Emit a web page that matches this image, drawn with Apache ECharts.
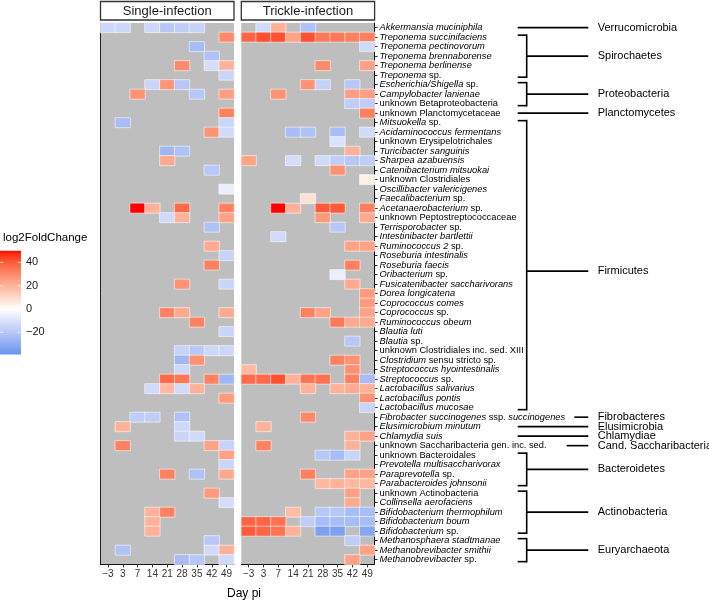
<!DOCTYPE html>
<html><head><meta charset="utf-8">
<script src="https://cdn.jsdelivr.net/npm/echarts@6/dist/echarts.min.js"></script>
<style>html,body{margin:0;padding:0;background:#fff}#c{width:709px;height:601px}</style>
</head><body><div id="c"></div>
<script>
// ---------------- DATA ----------------
const days = ['\u22123','3','7','14','21','28','35','42','49'];
const taxa = [
 '*Akkermansia muciniphila*','*Treponema succinifaciens*','*Treponema pectinovorum*','*Treponema brennaborense*',
 '*Treponema berlinense*','*Treponema* sp.','*Escherichia/Shigella* sp.','*Campylobacter lanienae*',
 'unknown Betaproteobacteria','unknown Planctomycetaceae','*Mitsuokella* sp.','*Acidaminococcus fermentans*',
 'unknown Erysipelotrichales','*Turicibacter sanguinis*','*Sharpea azabuensis*','*Catenibacterium mitsuokai*',
 'unknown Clostridiales','*Oscillibacter valericigenes*','*Faecalibacterium* sp.','*Acetanaerobacterium* sp.',
 'unknown Peptostreptococcaceae','*Terrisporobacter* sp.','*Intestinibacter bartlettii*','*Ruminococcus 2* sp.',
 '*Roseburia intestinalis*','*Roseburia faecis*','*Oribacterium* sp.','*Fusicatenibacter saccharivorans*',
 '*Dorea longicatena*','*Coprococcus comes*','*Coprococcus* sp.','*Ruminococcus obeum*','*Blautia luti*',
 '*Blautia* sp.','unknown Clostridiales inc. sed. XIII','*Clostridium* sensu stricto sp.',
 '*Streptococcus hyointestinalis*','*Streptococcus* sp.','*Lactobacillus salivarius*','*Lactobacillus pontis*',
 '*Lactobacillus mucosae*','*Fibrobacter succinogenes* ssp. *succinogenes*','*Elusimicrobium minutum*',
 '*Chlamydia suis*','unknown Saccharibacteria gen. inc. sed.','unknown Bacteroidales',
 '*Prevotella multisaccharivorax*','*Paraprevotella* sp.','*Parabacteroides johnsonii*','unknown Actinobacteria',
 '*Collinsella aerofaciens*','*Bifidobacterium thermophilum*','*Bifidobacterium boum*','*Bifidobacterium* sp.',
 '*Methanosphaera stadtmanae*','*Methanobrevibacter smithii*','*Methanobrevibacter* sp.'
];
// [phylum, first taxon index, last taxon index]
const phyla = [
 ['Verrucomicrobia',0,0],['Spirochaetes',1,5],['Proteobacteria',6,8],['Planctomycetes',9,9],
 ['Firmicutes',10,40],['Fibrobacteres',41,41],['Elusimicrobia',42,42],['Chlamydiae',43,43],
 ['Cand. Saccharibacteria',44,44],['Bacteroidetes',45,48],['Actinobacteria',49,53],['Euryarchaeota',54,56]
];
// [taxon index, day index, log2FoldChange]
const singleCells = [
 [0,0,-14],[0,1,-14],[0,3,-14],[0,4,-20],[0,5,-18],[0,6,-16],
 [1,8,30],[2,6,-24],[3,7,-22],[4,5,30],[4,7,-12],[4,8,20],[5,8,-15],
 [6,3,-15],[6,4,27],[6,5,-20],[7,2,28],[7,6,-20],[7,8,25],[9,8,32],
 [10,1,-24],[10,8,-15],[11,7,28],[11,8,-13],[13,4,-26],[13,5,-22],[14,4,22],[15,7,-20],[17,8,-6],
 [19,2,50],[19,3,20],[19,5,37],[19,8,32],[20,4,-13],[20,5,20],[20,8,24],[21,7,-22],[23,7,22],
 [24,8,-16],[25,7,32],[27,5,28],[27,8,-15],[30,4,32],[30,5,22],[30,8,22],[31,6,32],[32,8,-15],
 [34,5,-16],[34,6,-20],[34,7,-14],[34,8,-14],[35,5,-26],[35,6,28],[36,5,-14],
 [37,4,37],[37,5,34],[37,7,32],[37,8,-26],[38,3,-13],[38,4,18],[38,5,-13],[38,6,20],[39,8,26],
 [41,2,-18],[41,3,-18],[41,5,-22],[42,1,20],[42,5,-14],[43,5,-15],[43,6,-13],
 [44,1,32],[44,7,24],[44,8,-16],[45,8,24],[46,8,-15],[47,4,32],[47,6,-22],[47,8,22],
 [49,7,26],[50,8,-12],[51,3,20],[51,4,32],[52,3,20],[53,3,20],[54,7,-20],
 [55,1,-22],[55,7,-13],[55,8,20],[56,5,-24],[56,6,-20],[56,8,-13]
];
const trickleCells = [
 [0,1,-13],[0,2,20],[0,4,-22],
 [1,0,38],[1,1,42],[1,2,42],[1,3,24],[1,4,42],[1,5,34],[1,6,34],[1,7,32],[1,8,32],
 [2,8,-13],[4,5,30],[4,8,24],[6,4,28],[6,5,-16],[6,7,-20],[7,2,28],[7,7,25],[7,8,25],
 [8,7,-18],[8,8,-18],[9,8,32],[11,3,-24],[11,4,-22],[11,6,-24],[11,8,-13],[12,6,-10],[13,7,20],
 [14,0,24],[14,3,-12],[14,5,-13],[14,6,-18],[14,7,-20],[14,8,-18],[15,6,28],[16,8,4],[18,4,8],
 [19,2,50],[19,3,20],[19,5,40],[19,6,40],[19,8,32],[20,5,26],[20,8,22],[21,6,-20],[22,2,-13],
 [23,7,24],[23,8,24],[25,7,32],[26,6,-6],[27,7,22],[28,8,26],[29,8,26],
 [30,4,32],[30,5,24],[30,8,24],[31,6,34],[31,7,22],[31,8,22],[33,7,-20],[35,6,32],[35,7,28],
 [36,0,18],[36,7,28],[37,0,37],[37,1,37],[37,2,42],[37,3,20],[37,4,35],[37,5,35],[37,7,32],[37,8,-24],
 [38,4,20],[38,6,20],[38,7,22],[38,8,20],[39,8,28],[40,8,-15],[41,4,30],[42,1,20],
 [43,7,20],[43,8,24],[44,1,32],[44,7,20],[45,5,-20],[45,6,-24],[45,7,-15],
 [47,4,32],[47,7,24],[47,8,24],[48,5,18],[48,6,20],[48,7,18],[48,8,18],[49,7,24],[50,7,22],
 [51,3,17],[51,5,-20],[51,6,-20],[51,7,-24],[51,8,-24],
 [52,0,38],[52,1,38],[52,2,35],[52,4,-18],[52,5,-24],[52,6,-24],[52,7,-24],[52,8,-24],
 [53,0,40],[53,1,38],[53,2,35],[53,3,20],[53,5,-34],[53,6,-34],[53,8,-32],
 [54,7,-18],[55,8,24],[56,7,24]
];
const legendTicks = [40,20,0,-20];
const legendRange = [-39,50];

// ---------------- COLOUR (Lab gradient, white at 0) ----------------
function s2l(c){c/=255;return c<=0.04045?c/12.92:Math.pow((c+0.055)/1.055,2.4);}
function l2s(c){c=Math.max(0,Math.min(1,c));return Math.round(255*(c<=0.0031308?12.92*c:1.055*Math.pow(c,1/2.4)-0.055));}
function rgb2lab(p){const R=s2l(p[0]),G=s2l(p[1]),B=s2l(p[2]);
 const X=(0.4124*R+0.3576*G+0.1805*B)/0.95047,Y=0.2126*R+0.7152*G+0.0722*B,Z=(0.0193*R+0.1192*G+0.9505*B)/1.08883;
 const f=t=>t>0.008856?Math.cbrt(t):7.787*t+16/116;const fx=f(X),fy=f(Y),fz=f(Z);
 return [116*fy-16,500*(fx-fy),200*(fy-fz)];}
function lab2rgb(q){const fy=(q[0]+16)/116,fx=fy+q[1]/500,fz=fy-q[2]/200;
 const fi=t=>t>0.206893?t*t*t:(t-16/116)/7.787;const X=fi(fx)*0.95047,Y=fi(fy),Z=fi(fz)*1.08883;
 return [l2s(3.2406*X-1.5372*Y-0.4986*Z),l2s(-0.9689*X+1.8758*Y+0.0415*Z),l2s(0.0557*X-0.2040*Y+1.0570*Z)];}
const LOW=rgb2lab([100,149,237]),MID=rgb2lab([255,255,255]),HIGH=rgb2lab([255,0,0]);
const LIM_NEG=legendRange[0],LIM_POS=legendRange[1];
function colorFor(v){const t=Math.min(1,v<0?v/LIM_NEG:v/LIM_POS);const e=v<0?LOW:HIGH;
 const c=lab2rgb(MID.map((m,i)=>m+(e[i]-m)*t));return 'rgb('+c[0]+','+c[1]+','+c[2]+')';}
const stops=[];for(let k=0;k<=40;k++){stops.push(colorFor(LIM_NEG+(LIM_POS-LIM_NEG)*k/40));}

// ---------------- CHART ----------------
const FONT='"Liberation Sans", Arial, sans-serif';
const chart=echarts.init(document.getElementById('c'),null,{renderer:'canvas'});
function rich(s){const parts=s.split('*');let out='';
 parts.forEach((p,i)=>{if(p)out+='{'+(i%2?'i':'n')+'|'+p+'}';});return out;}
const gridTop=22.9,gridH=541.5;
const grids=[{left:100.5,top:gridTop,width:133.5,height:gridH},{left:241.3,top:gridTop,width:133.3,height:gridH}];
const xAx=i=>({type:'category',gridIndex:i,data:days,
 axisLine:{show:true,lineStyle:{color:'#111',width:1}},
 axisTick:{show:true,alignWithLabel:true,length:3,lineStyle:{color:'#333'}},
 axisLabel:{interval:0,fontSize:10,color:'#333',margin:5,fontFamily:FONT},splitLine:{show:false}});
const option={
 animation:false,
 textStyle:{fontFamily:FONT},
 grid:grids.map(g=>Object.assign({show:true,backgroundColor:'#BEBEBE',borderWidth:0,containLabel:false,outerBoundsMode:'none'},g)),
 xAxis:[xAx(0),xAx(1)],
 yAxis:[
  {type:'category',gridIndex:0,data:taxa,inverse:true,position:'left',
   axisLine:{show:true,lineStyle:{color:'#222',width:1}},axisTick:{show:false},axisLabel:{show:false},splitLine:{show:false}},
  {type:'category',gridIndex:1,data:taxa,inverse:true,position:'right',
   axisLine:{show:true,lineStyle:{color:'#111',width:1}},
   axisTick:{show:true,alignWithLabel:true,length:3,lineStyle:{color:'#333'}},
   axisLabel:{interval:0,margin:5,formatter:v=>rich(v),
    rich:{n:{fontSize:9.3,color:'#000',fontFamily:FONT},i:{fontSize:9.3,color:'#000',fontStyle:'italic',fontFamily:FONT}}},
   splitLine:{show:false}}
 ],
 visualMap:{type:'continuous',show:false,min:LIM_NEG,max:LIM_POS,seriesIndex:[0,1],dimension:2,inRange:{color:stops}},
 series:[
  {type:'heatmap',xAxisIndex:0,yAxisIndex:0,data:singleCells.map(d=>[d[1],d[0],d[2]]),
   itemStyle:{borderColor:'rgba(255,255,255,0.55)',borderWidth:1}},
  {type:'heatmap',xAxisIndex:1,yAxisIndex:1,data:trickleCells.map(d=>[d[1],d[0],d[2]]),
   itemStyle:{borderColor:'rgba(255,255,255,0.55)',borderWidth:1}}
 ]
};
chart.setOption(option);

// ---------------- ANNOTATIONS ----------------
const G=[];
[['Single-infection',grids[0]],['Trickle-infection',grids[1]]].forEach(([t,g])=>{
 G.push({type:'rect',shape:{x:g.left,y:1.5,width:g.width,height:18.5},style:{fill:'#fff',stroke:'#333',lineWidth:1.3}});
 G.push({type:'text',x:g.left+g.width/2,y:11,style:{text:t,fontSize:13,fontFamily:FONT,fill:'#1A1A1A',align:'center',verticalAlign:'middle'}});
});
G.push({type:'text',x:244,y:594,style:{text:'Day pi',fontSize:12,fontFamily:FONT,fill:'#000',align:'center',verticalAlign:'middle'}});
const ly=v=>309-1.165*v;
const gstops=[];for(let k=0;k<=40;k++){const v=LIM_POS-(LIM_POS-LIM_NEG)*k/40;gstops.push({offset:k/40,color:colorFor(v)});}
G.push({type:'text',x:3,y:238,style:{text:'log2FoldChange',fontSize:11.5,fontFamily:FONT,fill:'#000',align:'left',verticalAlign:'middle'}});
G.push({type:'rect',shape:{x:0,y:ly(LIM_POS),width:21,height:ly(LIM_NEG)-ly(LIM_POS)},
 style:{fill:new echarts.graphic.LinearGradient(0,0,0,1,gstops)}});
legendTicks.forEach(v=>{
 G.push({type:'line',shape:{x1:0,y1:ly(v),x2:3.5,y2:ly(v)},style:{stroke:'rgba(255,255,255,0.9)',lineWidth:0.8}});
 G.push({type:'line',shape:{x1:17.5,y1:ly(v),x2:21,y2:ly(v)},style:{stroke:'rgba(255,255,255,0.9)',lineWidth:0.8}});
 G.push({type:'text',x:26,y:ly(v),style:{text:v<0?'\u2212'+Math.abs(v):String(v),fontSize:11,fontFamily:FONT,fill:'#1A1A1A',align:'left',verticalAlign:'middle'}});
});
const B={tickX:517.7,vX:526.7,lineEnd:588.3,labelX:597.7,
 lineStart:{'Fibrobacteres':574.3,'Cand. Saccharibacteria':566.7},midShift:{'Firmicutes':6}};
const yOf=i=>chart.convertToPixel({yAxisIndex:1},taxa[i]);
const ln=(x1,y1,x2,y2)=>({type:'line',shape:{x1,y1,x2,y2},style:{stroke:'#000',lineWidth:1.6}});
phyla.forEach(([name,a,b])=>{
 const ya=yOf(a),yb=yOf(b);
 let ym;
 if(a===b){ym=ya;G.push(ln(B.lineStart[name]||B.tickX,ym,B.lineEnd,ym));}
 else{
  const t=ya-2,bt=yb+2;ym=(t+bt)/2+(B.midShift[name]||0);
  G.push(ln(B.tickX,t,B.vX,t));G.push(ln(B.vX,t-0.8,B.vX,bt+0.8));G.push(ln(B.tickX,bt,B.vX,bt));
  G.push(ln(B.vX,ym,B.lineEnd,ym));
 }
 G.push({type:'text',x:B.labelX,y:ym,style:{text:name,fontSize:11,fontFamily:FONT,fill:'#000',align:'left',verticalAlign:'middle'}});
});
chart.setOption({graphic:G});
</script></body></html>
